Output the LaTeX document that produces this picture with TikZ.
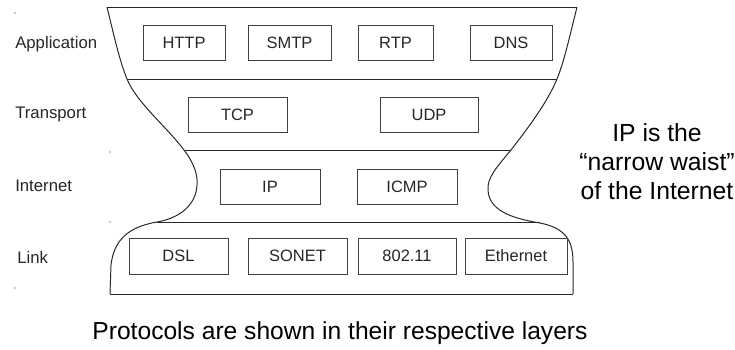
\documentclass[tikz,border=0pt]{standalone}
\usepackage{fontspec}
\setmainfont{Liberation Sans}

\begin{document}
\begin{tikzpicture}[x=0.025cm,y=-0.025cm,
    proto/.style={draw=black!75,line width=0.6pt,minimum height=0.875cm,inner sep=0pt,
      font=\fontsize{11.7}{14}\selectfont,text=black!85},
    layer/.style={anchor=west,inner sep=0pt,font=\fontsize{11.9}{14}\selectfont,text=black!85},
    waist/.style={black!85,line width=0.7pt}]
      \useasboundingbox (0,0) rectangle (735,349);
      \draw[waist] (107,7) -- (577,7);
      \draw[waist] (107,7) .. controls (115,40) and (120,62) .. (127,79)
        .. controls (137,103) and (165,125) .. (184,150)
        .. controls (194,163) and (198,175) .. (197,185)
        .. controls (196,205) and (180,218) .. (157,222)
        .. controls (128,227) and (114,240) .. (111,265) -- (110,294);
      \draw[waist] (577,7) .. controls (570,35) and (564,62) .. (557,79)
        .. controls (547,103) and (528,128) .. (511,150)
        .. controls (496,168) and (487,178) .. (488,190)
        .. controls (489,210) and (510,218) .. (540,223)
        .. controls (565,228) and (573,240) .. (573,262) -- (573,294);
      \draw[waist] (127,79) -- (557,79);
      \draw[waist] (184,150) -- (511,150);
      \draw[waist] (157,222) -- (540,222);
      \draw[waist] (110,294) -- (573,294);
      \node[layer] (app) at (15,44) {Application};
      \node[layer] (trans) at (15,114) {Transport};
      \node[layer] (inet) at (15,186) {Internet};
      \node[layer] (link) at (17,257) {Link};
      \node[proto,minimum width=2.05cm] (http) at (184,43) {HTTP};
      \node[proto,minimum width=2.075cm] (smtp) at (289.5,43) {SMTP};
      \node[proto,minimum width=1.875cm] (rtp) at (395.5,43) {RTP};
      \node[proto,minimum width=2.05cm] (dns) at (511,43) {DNS};
      \node[proto,minimum width=2.475cm] (tcp) at (237.5,114.5) {TCP};
      \node[proto,minimum width=2.45cm] (udp) at (429,114.5) {UDP};
      \node[proto,minimum width=2.5cm] (ip) at (270,187) {IP};
      \node[proto,minimum width=2.5cm] (icmp) at (407,187) {ICMP};
      \node[proto,minimum width=2.475cm,minimum height=0.9cm] (dsl) at (178.5,256) {DSL};
      \node[proto,minimum width=2.475cm,minimum height=0.9cm] (sonet) at (297.5,256) {SONET};
      \node[proto,minimum width=2.45cm,minimum height=0.9cm] (wifi) at (407,256) {802.11};
      \node[proto,minimum width=2.55cm,minimum height=0.9cm] (eth) at (516,256) {Ethernet};
      \node[align=center,font=\fontsize{17.6}{20.6}\selectfont] (note) at (657,162)
        {IP is the\\``narrow waist''\\of the Internet};
      \node[font=\fontsize{17.5}{20}\selectfont] (caption) at (340,333)
        {Protocols are shown in their respective layers};
      \foreach \p in {(15,13),(110,152),(110,222),(15,288)}
        \fill[black!45] \p circle (0.8);
    \end{tikzpicture}
\end{document}
